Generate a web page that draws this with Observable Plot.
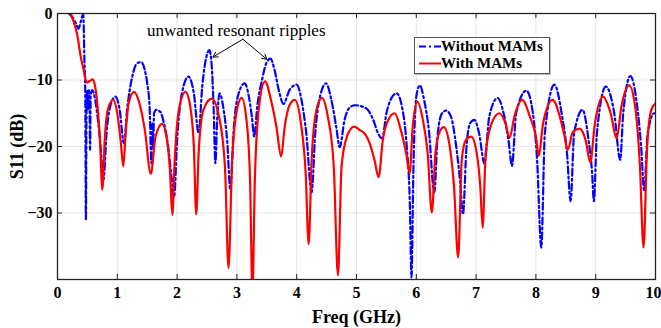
<!DOCTYPE html>
<html><head><meta charset="utf-8">
<script src="https://cdn.jsdelivr.net/npm/d3@7"></script>
<script src="https://cdn.jsdelivr.net/npm/@observablehq/plot@0.6"></script>
<style>
body{margin:0;background:#fff;}
#wrap{position:relative;width:661px;height:328px;overflow:hidden;}
#legend{position:absolute;left:414px;top:37px;width:136px;height:37px;box-sizing:border-box;border:1px solid #555;background:#fff;font:bold 15px "Liberation Serif","Times New Roman",serif;color:#000;box-shadow:1px 1px 0 #bbb;}
#legend span{position:absolute;left:26px;line-height:17px;white-space:nowrap;}
#legend svg{position:absolute;left:3px;top:0;}
</style></head>
<body><div id="wrap"></div>
<script>
// Frequency (GHz), S11 (dB)
const withoutMAMs = [
[0.19,0],[0.25,-0.6],[0.31,-1.5],[0.35,-2.3],[0.39,-1.2],[0.43,-0.1],[0.45,-7],[0.465,-12],[0.475,-31],[0.485,-15],
[0.50,-11.5],[0.515,-14.5],[0.525,-11.5],[0.535,-13],[0.545,-20.5],[0.555,-12.5],[0.58,-11.5],[0.62,-12.5],[0.67,-15.5],[0.72,-20],
[0.77,-25],[0.82,-18],[0.88,-14],[0.97,-12.5],[1.04,-14.5],[1.11,-19.5],[1.17,-14],[1.25,-9.5],[1.33,-7.5],[1.40,-7.3],
[1.46,-8.5],[1.50,-10.5],[1.54,-14],[1.57,-22.5],[1.585,-16.5],[1.60,-20],[1.615,-15],[1.65,-14.5],[1.72,-14.8],[1.78,-16.5],
[1.85,-20],[1.90,-24],[1.95,-27.6],[2.0,-19],[2.08,-12],[2.19,-9.5],[2.28,-12],[2.36,-18],[2.42,-11],[2.49,-6.5],
[2.54,-5.5],[2.58,-8],[2.61,-14],[2.64,-22.5],[2.67,-16],[2.71,-12],[2.77,-14],[2.84,-19.5],[2.89,-26.5],[2.95,-17],
[3.03,-12],[3.13,-10.5],[3.20,-12.5],[3.25,-15.5],[3.29,-18.5],[3.34,-14],[3.42,-10],[3.49,-7.5],[3.56,-6.8],[3.63,-8.5],
[3.70,-11.5],[3.78,-13.6],[3.88,-11.5],[4.0,-10.7],[4.08,-13],[4.16,-18],[4.25,-26.9],[4.31,-18],[4.39,-12.5],[4.49,-10.5],
[4.58,-13],[4.66,-17],[4.72,-20.1],[4.80,-16],[4.88,-14.2],[4.97,-13.8],[5.10,-14],[5.19,-14.5],[5.28,-16],[5.36,-18],
[5.43,-18.8],[5.50,-15],[5.58,-12.8],[5.67,-12],[5.76,-14],[5.84,-20],[5.89,-28],[5.92,-39.7],[5.95,-24],[6.0,-12.5],
[6.06,-10.8],[6.13,-13],[6.21,-17.5],[6.30,-26.9],[6.36,-18],[6.43,-15],[6.50,-14.6],[6.58,-15.5],[6.66,-19.5],[6.73,-25],
[6.78,-30.2],[6.84,-20],[6.90,-16.5],[6.97,-16],[7.05,-18],[7.14,-22.6],[7.22,-15.5],[7.36,-12.7],[7.46,-15],[7.54,-19],
[7.60,-22.9],[7.67,-15],[7.84,-11.6],[7.95,-15],[8.02,-22],[8.09,-35.2],[8.15,-18],[8.31,-10.7],[8.43,-15],[8.52,-21],
[8.58,-28.2],[8.64,-18],[8.78,-14.5],[8.88,-19],[8.94,-24],[8.97,-28.2],[9.02,-18],[9.17,-11],[9.31,-15],[9.41,-22],
[9.46,-15],[9.58,-9.4],[9.68,-13],[9.76,-20],[9.81,-26.6],[9.87,-18],[9.98,-15],[10.0,-15]
];
const withMAMs = [
[0.22,0],[0.28,-1.5],[0.33,-3.2],[0.37,-5.5],[0.40,-7],[0.44,-8.6],[0.49,-10.4],[0.53,-10.2],[0.59,-9.9],[0.63,-11],
[0.67,-14],[0.71,-19],[0.75,-26.5],[0.79,-19],[0.84,-14.5],[0.93,-13],[1.0,-15],[1.06,-19.5],[1.1,-23],[1.14,-18],
[1.19,-13.5],[1.28,-11.8],[1.37,-13.5],[1.46,-17.5],[1.56,-24.1],[1.64,-18.5],[1.75,-16.6],[1.83,-19],[1.88,-23.5],[1.92,-30.3],
[1.96,-22],[2.03,-14.5],[2.14,-11.8],[2.22,-14],[2.28,-20],[2.32,-30.2],[2.36,-21],[2.44,-14.5],[2.58,-12.8],[2.70,-15.5],
[2.80,-23],[2.86,-38.3],[2.92,-22],[3.0,-14.5],[3.08,-12.7],[3.16,-16],[3.22,-25],[3.26,-42],[3.30,-25],[3.37,-14],
[3.47,-10.2],[3.57,-13],[3.66,-17],[3.74,-21.5],[3.80,-17],[3.88,-13.8],[3.97,-13],[4.07,-16.5],[4.15,-24],[4.20,-34.7],
[4.25,-22],[4.33,-14.5],[4.42,-12.7],[4.52,-15.5],[4.62,-23],[4.69,-39.4],[4.75,-23],[4.84,-18.5],[4.96,-17],[5.05,-17.5],
[5.15,-18.2],[5.22,-19.5],[5.30,-22],[5.37,-24.6],[5.44,-19],[5.53,-16],[5.64,-15],[5.74,-17.5],[5.83,-21],[5.89,-24],
[5.94,-17],[6.02,-13.3],[6.11,-16],[6.19,-21],[6.26,-29.9],[6.32,-21],[6.39,-17.8],[6.46,-17.1],[6.55,-19.5],[6.63,-26],
[6.70,-36.7],[6.76,-22],[6.83,-19],[6.92,-18.5],[7.01,-21],[7.07,-26],[7.11,-32.2],[7.16,-21],[7.26,-16.5],[7.39,-15],
[7.49,-16.5],[7.56,-18.7],[7.64,-15.5],[7.77,-13],[7.90,-15.5],[8.0,-18.5],[8.05,-21.4],[8.12,-16.5],[8.28,-13],[8.40,-15.5],
[8.48,-18.5],[8.53,-20.5],[8.62,-17.8],[8.73,-17.3],[8.83,-19],[8.91,-22.4],[8.98,-17],[9.12,-12.5],[9.25,-15],[9.35,-18.8],
[9.43,-14],[9.56,-10.8],[9.66,-14],[9.74,-23],[9.80,-35.2],[9.86,-20],[9.93,-14.5],[10.0,-13.5]
];
const xTicks = [0,1,2,3,4,5,6,7,8,9,10];
const yTicks = [0,-10,-20,-30];
const seriesNames = ["Without MAMs", "With MAMs"];
const annotation = [{x: 2.99, y: -2.6, text: "unwanted resonant ripples"}];
const arrows = [{x1: 3.10, y1: -3.87, x2: 2.60, y2: -6.54}, {x1: 3.10, y1: -3.87, x2: 3.50, y2: -6.88}];

const ink = "#222";
const inner = xTicks.slice(0, -1);
const last = xTicks.slice(-1);
const plot = Plot.plot({
  width: 661, height: 328,
  marginLeft: 57, marginRight: 6, marginTop: 13, marginBottom: 49,
  style: {fontFamily: '"Liberation Serif","Times New Roman",serif', fontWeight: "bold", background: "#fff", color: "#000"},
  x: {domain: [0, 10]},
  y: {domain: [-40, 0]},
  marks: [
    Plot.gridX(xTicks, {stroke: "#000", strokeOpacity: 0.1}),
    Plot.gridY(yTicks, {stroke: "#000", strokeOpacity: 0.1}),
    Plot.line(withoutMAMs, {x: d => d[0], y: d => d[1], stroke: "#0000ff", strokeWidth: 2.2, strokeDasharray: "7,3,2,3", curve: "monotone-x", clip: true}),
    Plot.line(withMAMs, {x: d => d[0], y: d => d[1], stroke: "#ff0000", strokeWidth: 2.2, curve: "monotone-x", clip: true}),
    Plot.tickX(xTicks, {x: d => d, insetTop: 261, stroke: ink}),
    Plot.tickX(xTicks, {x: d => d, insetBottom: 261, stroke: ink}),
    Plot.tickY(yTicks, {y: d => d, insetRight: 593, stroke: ink}),
    Plot.tickY(yTicks, {y: d => d, insetLeft: 593, stroke: ink}),
    Plot.frame({stroke: ink, strokeWidth: 1.3}),
    Plot.axisX(inner, {tickSize: 0, tickPadding: 7, fontSize: 16, label: null}),
    Plot.axisX(last, {tickSize: 0, tickPadding: 7, fontSize: 16, label: null, dx: -2}),
    Plot.axisY(yTicks, {tickSize: 0, tickPadding: 5, fontSize: 16, label: null}),
    Plot.text(["Freq (GHz)"], {frameAnchor: "bottom", dy: 38, fontSize: 18, textAnchor: "middle", lineAnchor: "middle"}),
    Plot.text(["S11 (dB)"], {frameAnchor: "left", dx: -40, rotate: -90, fontSize: 18, textAnchor: "middle", lineAnchor: "middle"}),
    Plot.text(annotation, {x: "x", y: "y", text: "text", fontSize: 17, fontWeight: "normal", lineAnchor: "middle", textAnchor: "middle"}),
    Plot.arrow(arrows, {x1: "x1", y1: "y1", x2: "x2", y2: "y2", stroke: "#000", strokeWidth: 1, headLength: 8})
  ]
});
const wrap = document.getElementById("wrap");
wrap.appendChild(plot);
const legend = document.createElement("div");
legend.id = "legend";
legend.innerHTML = `<svg width="26" height="35"><line x1="1" x2="23" y1="8.5" y2="8.5" stroke="#0000ff" stroke-width="2" stroke-dasharray="7,3,2,3"/><line x1="1" x2="23" y1="25.5" y2="25.5" stroke="#ff0000" stroke-width="2"/></svg>` +
  `<span style="top:0px">${seriesNames[0]}</span><span style="top:17px">${seriesNames[1]}</span>`;
wrap.appendChild(legend);
</script>
</body></html>
